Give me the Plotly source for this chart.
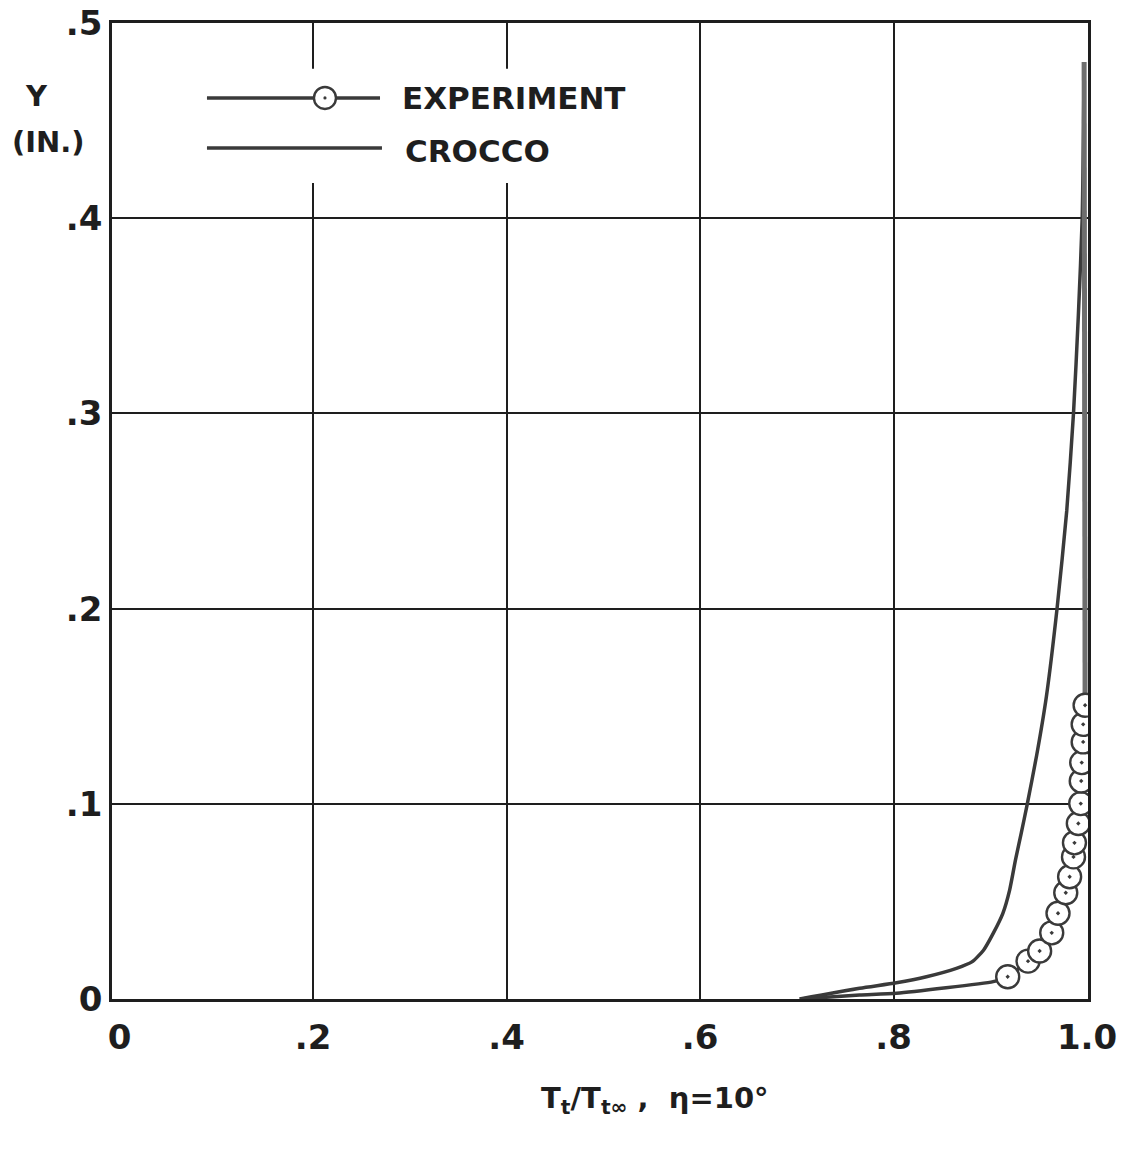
import plotly.graph_objects as go

# ---- data ----
exp_x = [0.918, 0.939, 0.951, 0.9635, 0.970, 0.978, 0.982, 0.986, 0.987, 0.991,
         0.9935, 0.994, 0.9945, 0.996, 0.996, 0.998]
exp_y = [0.0114, 0.0194, 0.0246, 0.0339, 0.0439, 0.0544, 0.0626, 0.0728, 0.080, 0.0899,
         0.1001, 0.1117, 0.1211, 0.1317, 0.1407, 0.1505]

# faired experiment curve through the points
exp_line_x = [0.703, 0.765, 0.803, 0.903, 0.918, 0.939, 0.951, 0.9635, 0.970, 0.978,
              0.982, 0.986, 0.991, 0.9935, 0.995, 0.997, 0.998]
exp_line_y = [0.0, 0.0020, 0.0029, 0.0089, 0.0114, 0.0194, 0.0246, 0.0339, 0.0439, 0.0544,
              0.0626, 0.0728, 0.0899, 0.1001, 0.1211, 0.1407, 0.1505]

# heavy extension of the experimental curve above the last point
exp_ext_x = [0.998, 0.997]
exp_ext_y = [0.1505, 0.48]

crocco_x = [0.703, 0.765, 0.803, 0.834, 0.865, 0.881, 0.893, 0.903, 0.913, 0.920,
            0.926, 0.932, 0.938, 0.948, 0.958, 0.969, 0.979, 0.986, 0.991, 0.995, 0.997]
crocco_y = [0.0, 0.0055, 0.0083, 0.0114, 0.0157, 0.019, 0.025, 0.0336, 0.0439, 0.0558,
            0.0711, 0.085, 0.0993, 0.125, 0.155, 0.2, 0.25, 0.3, 0.35, 0.40, 0.48]

x_ticks = [0, 0.2, 0.4, 0.6, 0.8, 1.0]
x_tick_labels = ["0", ".2", ".4", ".6", ".8", "1.0"]
x_grid = [0.2, 0.4, 0.6, 0.8]
y_ticks = [0, 0.1, 0.2, 0.3, 0.4, 0.5]
y_tick_labels = ["0", ".1", ".2", ".3", ".4", ".5"]

FONT = "DejaVu Sans"
INK = "#1e1e1e"
CURVE = "#3a3a3a"

fig = go.Figure()
fig.add_trace(go.Scatter(x=crocco_x, y=crocco_y, mode="lines",
                         line=dict(color=CURVE, width=3.5, shape="spline", smoothing=0.6),
                         name="CROCCO"))
fig.add_trace(go.Scatter(x=exp_ext_x, y=exp_ext_y, mode="lines",
                         line=dict(color="#6e6e6e", width=5), name="EXPERIMENT ext"))
fig.add_trace(go.Scatter(x=exp_line_x, y=exp_line_y, mode="lines",
                         line=dict(color=CURVE, width=3.5, shape="spline", smoothing=0.5),
                         name="EXPERIMENT line"))
fig.add_trace(go.Scatter(x=exp_x, y=exp_y, mode="markers", name="EXPERIMENT",
                         marker=dict(symbol="circle-dot", size=23, color="white",
                                     line=dict(color=CURVE, width=2.4))))

# ---- lettered legend inside the plot (paper coordinates) ----
shapes = [
    dict(type="rect", xref="paper", yref="paper", x0=0.08, x1=0.541,
         y0=0.836, y1=0.953, fillcolor="white", line=dict(width=0), layer="above"),
    dict(type="line", xref="paper", yref="paper", x0=0.0973, x1=0.2746,
         y0=0.9232, y1=0.9232, line=dict(color=CURVE, width=3.5), layer="above"),
    dict(type="line", xref="paper", yref="paper", x0=0.0973, x1=0.2766,
         y0=0.872, y1=0.872, line=dict(color=CURVE, width=3.5), layer="above"),
    dict(type="circle", xref="paper", yref="paper", xsizemode="pixel",
         ysizemode="pixel", xanchor=0.2182, yanchor=0.9232,
         x0=-11, x1=11, y0=-11, y1=11, fillcolor="white",
         line=dict(color=CURVE, width=2.4), layer="above"),
    dict(type="circle", xref="paper", yref="paper", xsizemode="pixel",
         ysizemode="pixel", xanchor=0.2182, yanchor=0.9232,
         x0=-1.6, x1=1.6, y0=-1.6, y1=1.6, fillcolor=CURVE,
         line=dict(color=CURVE, width=0), layer="above"),
]

annotations = [
    dict(text="<b>EXPERIMENT</b>", xref="paper", yref="paper", x=0.295, y=0.9232,
         xanchor="left", yanchor="middle", showarrow=False,
         font=dict(family=FONT, size=31, color=INK)),
    dict(text="<b>CROCCO</b>", xref="paper", yref="paper", x=0.298, y=0.869,
         xanchor="left", yanchor="middle", showarrow=False,
         font=dict(family=FONT, size=31, color=INK)),
    dict(text="<b>Y</b>", xref="paper", yref="paper", x=-0.077, y=0.925,
         xanchor="center", yanchor="middle", showarrow=False,
         font=dict(family=FONT, size=29, color=INK)),
    dict(text="<b>(IN.)</b>", xref="paper", yref="paper", x=-0.065, y=0.878,
         xanchor="center", yanchor="middle", showarrow=False,
         font=dict(family=FONT, size=29, color=INK)),
    dict(text="<b>T<sub>t</sub>/T<sub>t\u221e</sub> ,  \u03b7=10\u00b0</b>", xref="paper",
         yref="paper", x=0.556, y=-0.103, xanchor="center", yanchor="middle",
         showarrow=False, font=dict(family=FONT, size=29, color=INK)),
]

fig.update_layout(
    width=1123, height=1154,
    margin=dict(l=112, r=35, t=23, b=155, autoexpand=False),
    paper_bgcolor="white", plot_bgcolor="white",
    showlegend=False,
    shapes=shapes, annotations=annotations,
    font=dict(family=FONT, color=INK),
)
fig.update_xaxes(range=[-0.0078, 1.001], tickvals=x_ticks, ticktext=x_tick_labels,
                 automargin=False, showgrid=False, zeroline=False,
                 minor=dict(tickvals=x_grid, showgrid=True, gridcolor=INK, gridwidth=2, ticks=""),
                 showline=True, linecolor=INK, linewidth=2.5, mirror=True,
                 ticks="", ticklabelstandoff=6,
                 tickfont=dict(size=34, family=FONT, color=INK, weight="bold"))
fig.update_yaxes(range=[0, 0.5], tickvals=y_ticks, ticktext=y_tick_labels,
                 automargin=False, showgrid=True, gridcolor=INK, gridwidth=2, zeroline=False,
                 showline=True, linecolor=INK, linewidth=2.5, mirror=True,
                 ticks="", ticklabelstandoff=0,
                 tickfont=dict(size=34, family=FONT, color=INK, weight="bold"))

fig.write_html("out.html")
